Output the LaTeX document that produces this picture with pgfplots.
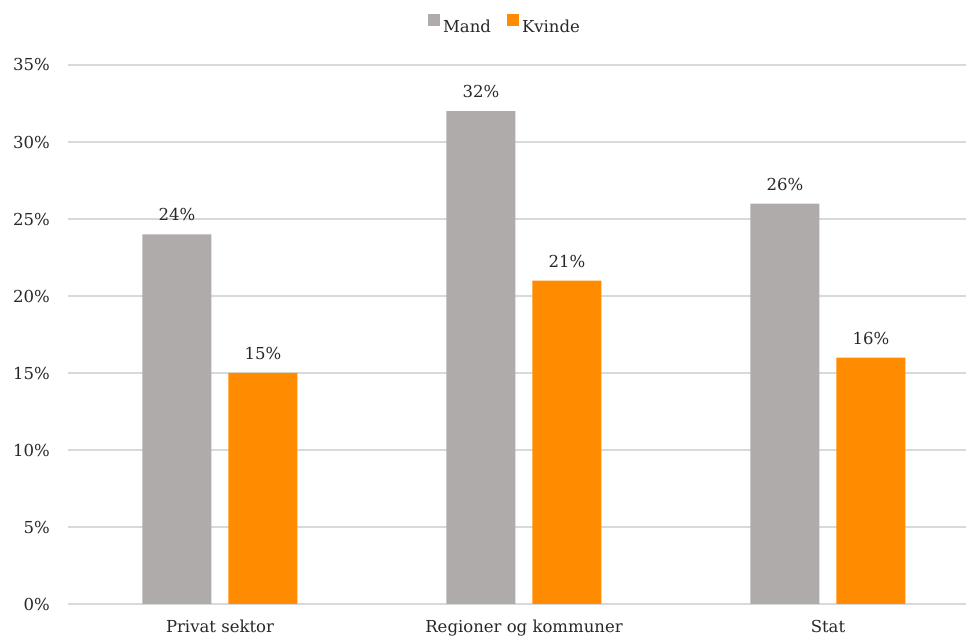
\documentclass[border=0pt]{standalone}
\usepackage{fontspec}
\setmainfont{DejaVu Serif}
\usepackage{pgfplots}
\pgfplotsset{compat=1.18}

\definecolor{mandgray}{RGB}{175,171,171}
\definecolor{kvindeorange}{RGB}{255,140,0}
\definecolor{gridgray}{RGB}{217,217,217}
\definecolor{txt}{RGB}{40,40,40}

\begin{document}
\begin{tikzpicture}
\begin{axis}[
  scale only axis,
  width=898pt, height=539pt,
  ymin=0, ymax=35,
  xmin=-0.5, xmax=2.454,
  ytick={0,5,...,35},
  xtick={0,1,2},
  xticklabels={Privat sektor, Regioner og kommuner, Stat},
  yticklabel={\pgfmathprintnumber{\tick}\%},
  /pgf/number format/assume math mode=true,
  axis line style={draw=none},
  major tick length=0pt,
  ymajorgrids,
  major grid style={draw=gridgray, line width=1.5pt},
  tick label style={font=\fontsize{16.5}{20}\selectfont, text=txt, inner sep=0pt},
  yticklabel style={anchor=east, xshift=-18pt},
  xticklabel style={anchor=north, yshift=-16pt},
  ybar=17pt,
  bar width=69pt,
  nodes near coords={\pgfmathprintnumber{\pgfplotspointmeta}\%},
  every node near coord/.append style={font=\fontsize{16.5}{20}\selectfont, text=txt, inner sep=0pt, anchor=south, yshift=13pt},
  legend style={draw=none, fill=none, at={(0.4855,1.0742)}, anchor=center,
    legend columns=-1, font=\fontsize{16.5}{20}\selectfont, text=txt,
    /tikz/every odd column/.append style={column sep=3pt},
    /tikz/every even column/.append style={column sep=16pt},
    nodes={inner xsep=0pt, inner ysep=2pt}},
  legend image code/.code={\fill[#1] (0pt,0pt) rectangle (12pt,12pt);},
]
\addplot[fill=mandgray, draw=none] coordinates {(0,24) (1,32) (2,26)};
\addplot[fill=kvindeorange, draw=none] coordinates {(0,15) (1,21) (2,16)};
\legend{Mand, Kvinde}
\coordinate (bl) at (rel axis cs:0,0);
\coordinate (tr) at (rel axis cs:1,1);
\end{axis}
\pgfresetboundingbox
\path[use as bounding box] ([shift={(-68pt,-35pt)}]bl) rectangle ([shift={(0pt,65pt)}]tr);
\end{tikzpicture}
\end{document}
